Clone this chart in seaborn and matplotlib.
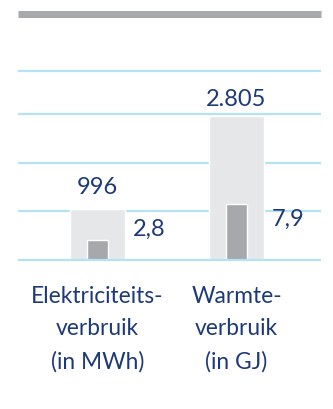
import matplotlib
matplotlib.use("Agg")
import matplotlib.pyplot as plt
from matplotlib.lines import Line2D
import seaborn as sns

# Data
categories = ["Elektriciteits-\nverbruik\n(in MWh)", "Warmte-\nverbruik\n(in GJ)"]
totals = [996, 2805]          # light bars
totals_text = ["996", "2.805"]
intensity = [2.8, 7.9]        # dark bars
intensity_text = ["2,8", "7,9"]

# Style
NAVY = "#1d3a78"
GRID = "#b5e2f6"
LIGHT = "#e6e7e9"
DARK = "#a7a8ab"
W, H = 333, 409
FS = 17.0
FS_CAT = 16.4

sns.set_theme(style="white")
plt.rcParams["font.family"] = ["Lato", "DejaVu Sans"]

fig = plt.figure(figsize=(W / 100, H / 100), dpi=100)

# axes in pixels: left, right, baseline, top
x0, x1 = 18, 320.7
base_px, top_px = 259.7, 55.0
below_px = 5.0
ax = fig.add_axes([x0 / W, 1 - (base_px + below_px) / H,
                   (x1 - x0) / W, (base_px + below_px - top_px) / H])
ax2 = ax.twinx()

ppu_light = 0.0514   # pixels per unit, light bars
ppu_dark = 7.08      # pixels per unit, dark bars
span_px = base_px - top_px

sns.barplot(x=[0, 1], y=totals, ax=ax, width=0.396, color=LIGHT,
            saturation=1, native_scale=False)
sns.barplot(x=[0, 1], y=intensity, ax=ax2, width=0.151, color=DARK,
            saturation=1, native_scale=False)

for a, ppu in ((ax, ppu_light), (ax2, ppu_dark)):
    a.set_ylim(-below_px / ppu, span_px / ppu)
    a.set_xlim(-0.572, 1.606)
    for s in a.spines.values():
        s.set_visible(False)
    a.set_xticks([])
    a.set_yticks([])
    a.set_xlabel("")
    a.set_ylabel("")

# horizontal rules
grid_rise_px = [48.7, 97.0, 145.7, 189.0]
ax.set_axisbelow(True)
for r in grid_rise_px:
    ax.axhline(r / ppu_light, color=GRID, lw=1.6, zorder=0)
ax2.axhline(0, color=GRID, lw=1.6, zorder=5)

# header rule
fig.add_artist(Line2D([x0 / W, x1 / W], [1 - 13.6 / H] * 2, lw=7 * 0.72,
                      color="#a7a9ac", solid_capstyle="butt"))

# value labels above light bars
above_px = [15, 10]
for i, (v, t) in enumerate(zip(totals, totals_text)):
    ax.annotate(t, xy=(i, v), xytext=(0, above_px[i]), textcoords="offset pixels",
                ha="center", va="baseline", fontsize=FS, color=NAVY)

# value labels beside bars
side_rise_px = [24, 34]
for i, t in enumerate(intensity_text):
    ax.annotate(t, xy=(i + 0.198, 0), xytext=(8, side_rise_px[i]),
                textcoords="offset pixels", ha="left", va="baseline",
                fontsize=FS, color=NAVY)

# category labels
for i, c in enumerate(categories):
    ax.annotate(c, xy=(i, 0), xytext=(0, -26), textcoords="offset pixels",
                ha="center", va="top", fontsize=FS_CAT, color=NAVY,
                linespacing=1.68, annotation_clip=False)

fig.savefig("out.png", dpi=100)
